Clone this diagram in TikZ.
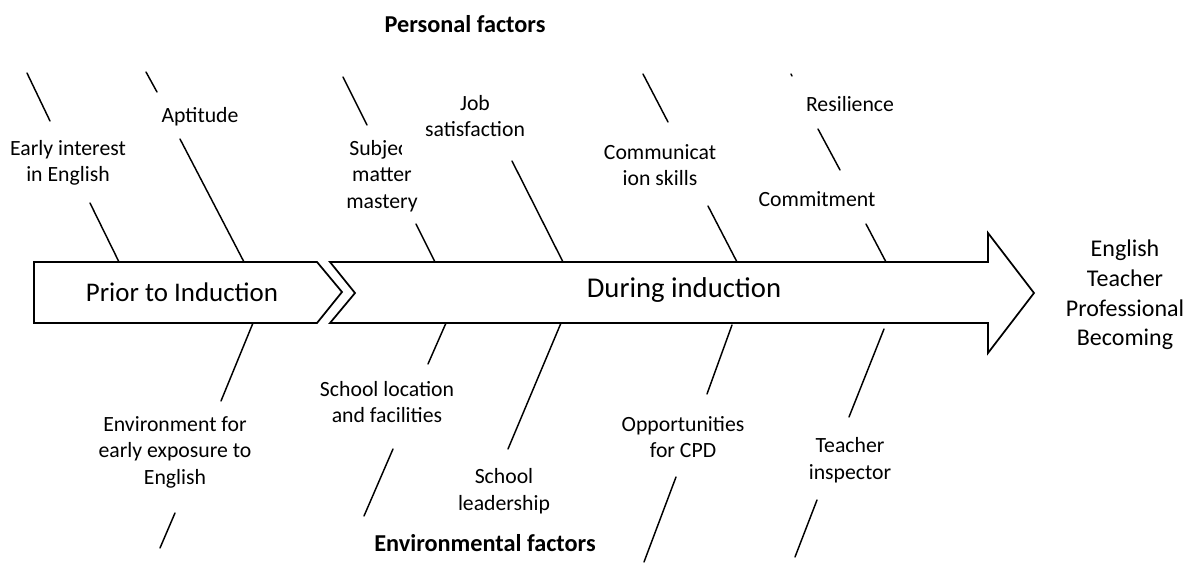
\documentclass[tikz,border=0pt]{standalone}
\usepackage{fontspec}
\setmainfont{Carlito}
\begin{document}
\begin{tikzpicture}[x=0.75pt,y=-0.75pt,
  bone/.style={line width=1.1pt,line cap=round},
  shapeline/.style={line width=1.3pt,line join=miter},
  lbl/.style={inner sep=0pt,align=center,font=\fontsize{16.3}{19.9}\selectfont},
  ttl/.style={inner sep=0pt,align=center,font=\bfseries\fontsize{18.2}{22}\selectfont},
  big/.style={inner sep=0pt,align=center}]
\useasboundingbox (0,0) rectangle (1192,563);
% spine shapes
\draw[shapeline] (34,262) coordinate (p1) -- (317,262) -- (342,292) -- (317,323) -- (34,323) -- cycle;
\draw[shapeline] (330,262) -- (988,262) -- (988,233) -- (1034,293) coordinate (tip) -- (988,353) -- (988,323) -- (330,323) -- (355,293) -- cycle;
\node[big,font=\fontsize{20.2}{24}\selectfont] (prior) at (182,292) {Prior to Induction};
\node[big,font=\fontsize{21.5}{26}\selectfont] (during) at (684,290) {During induction};
\node[lbl,font=\fontsize{18}{22.2}\selectfont] (goal) at (1125,295) {English\\Teacher\\Professional\\Becoming};
% bones
\foreach \n/\a/\b/\c/\d in {
  tA/27/73/50/121, tB/90/203/119/262,
  tC/146/72/157/92, tD/180/139/244/262,
  tE/343/77/367/125, tF/416/224/435/262,
  tG/512/161/563/262,
  tH/643/74/668/122, tI/708/206/737/262,
  tJ/791/74/792/76, tK/818/129/840/170, tL/866/224/886/262,
  bA/253/323/221/401, bB/175/513/160/548,
  bC/446/323/428/364, bD/393/449/364/516,
  bE/561/323/508/449,
  bF/732/325/707/394, bG/676/477/644/562,
  bH/884/329/849/417, bI/817/500/795/557}
{
  \coordinate (\n s) at (\a,\b);
  \coordinate (\n e) at (\c,\d);
  \draw[bone] (\n s) -- (\n e);
}
% labels
\node[lbl] (early) at (68,163) {Early interest\\in English};
\node[lbl] (apt) at (200,117) {Aptitude};
\begin{scope}
  \clip (330,135) rectangle (401,165);
  \node[lbl] (subj) at (382,150) {Subject};
\end{scope}
\node[lbl] (matter) at (382,190) {matter\\mastery};
\node[lbl] (job) at (475,116) {Job\\satisfaction};
\node[lbl] (comm) at (660,165) {Communicat\\ion skills};
\node[lbl] (res) at (850,104) {Resilience};
\node[lbl] (commit) at (817,199) {Commitment};
\node[lbl] (env) at (175,452) {Environment for\\early exposure to\\English};
\node[lbl] (loc) at (387,402) {School location\\and facilities};
\node[lbl] (lead) at (504,491) {School\\leadership};
\node[lbl] (cpd) at (683,437) {Opportunities\\for CPD};
\node[lbl] (insp) at (850,460) {Teacher\\inspector};
\node[ttl] (pers) at (465,24) {Personal factors};
\node[ttl] (envf) at (485,543) {Environmental factors};
\end{tikzpicture}
\end{document}
